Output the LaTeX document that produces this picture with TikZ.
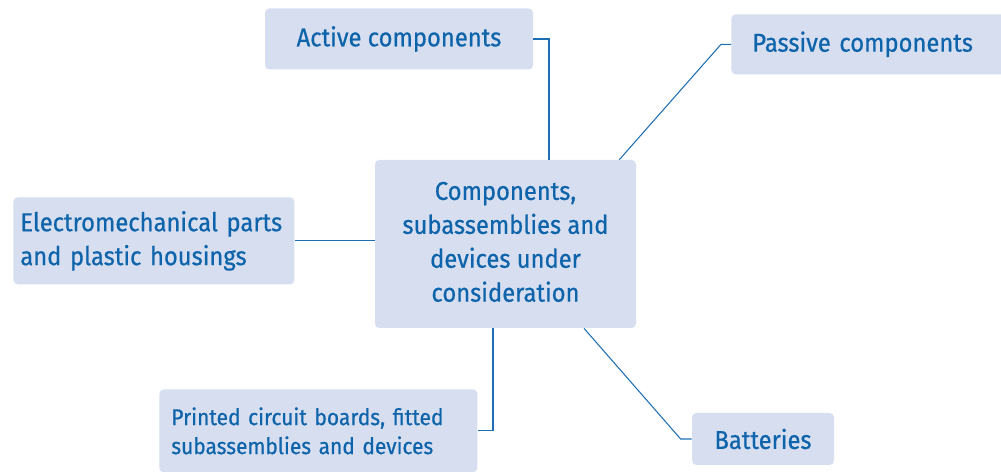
\documentclass[tikz,border=0pt]{standalone}
\usepackage{fontspec}
\setmainfont[FakeStretch=0.92, FakeBold=0.6]{Fira Sans}
\usepackage{tikz}
\usetikzlibrary{positioning}

\definecolor{boxfill}{RGB}{214,222,240}
\definecolor{boxtext}{RGB}{14,100,170}
\definecolor{linkline}{RGB}{30,110,180}

\begin{document}
\begin{tikzpicture}[
    box/.style={rectangle, fill=boxfill, rounded corners=2.5pt, text=boxtext, font=\fontsize{14.7}{19.3}\selectfont, inner sep=0pt},
    leftbox/.style={box, align=left, anchor=north west},
    link/.style={draw=linkline, line width=0.6pt}
]
\useasboundingbox (0,0) rectangle (20.02,9.44);

% Centre node
\node[box, align=center, minimum width=5.22cm, minimum height=3.36cm] (centre) at (10.11,4.56) {\raisebox{0.05cm}{\begin{tabular}{@{}c@{}}Components,\\subassemblies and\\devices under\\consideration\end{tabular}}};

% Surrounding groups
\node[box, minimum width=5.36cm, minimum height=1.22cm] (active) at (7.98,8.66) {Active components};
\node[leftbox, text width=4.74cm, inner xsep=0.42cm, minimum height=1.2cm] (passive) at (14.62,9.16) {Passive components};
\node[leftbox, text width=5.34cm, inner xsep=0.14cm, minimum height=1.74cm] (electro) at (0.26,5.50) {Electromechanical parts\\and plastic housings};
\node[leftbox, text width=5.88cm, inner xsep=0.24cm, minimum height=1.66cm, font=\fontsize{12.95}{16.5}\selectfont] (pcb) at (3.18,1.66) {Printed circuit boards, fitted\\subassemblies and devices};
\node[box, minimum width=2.84cm, minimum height=1.04cm] (batteries) at (15.26,0.66) {Batteries};

% Connectors
\draw[link] (active.east) -| ([xshift=0.87cm]centre.north);
\draw[link] (passive.west) -- ([xshift=-0.2cm]passive.west) -- ([xshift=-0.34cm]centre.north east);
\draw[link] (electro.east) -- (electro.east -| centre.west);
\draw[link] ([xshift=-0.25cm]centre.south) |- (pcb.east);
\draw[link] ([xshift=1.57cm]centre.south) -- ([xshift=-0.22cm]batteries.west) -- (batteries.west);

\end{tikzpicture}
\end{document}
